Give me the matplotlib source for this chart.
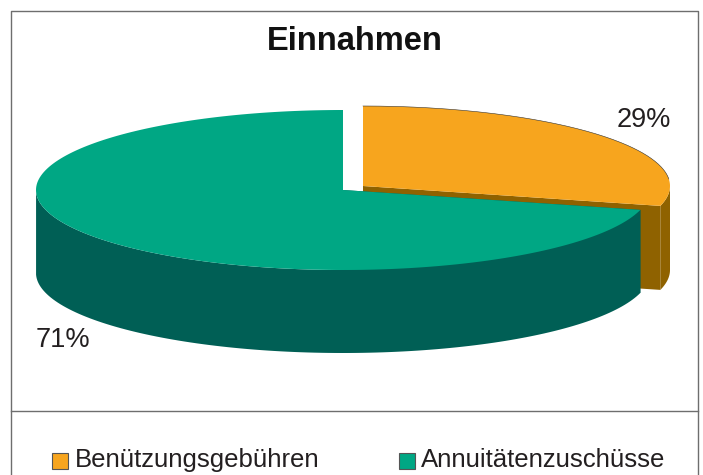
import numpy as np
import matplotlib
matplotlib.use('Agg')
import matplotlib.pyplot as plt
from matplotlib.patches import Rectangle

plt.rcParams['font.family'] = ['Liberation Sans', 'DejaVu Sans']

title = 'Einnahmen'
labels = ['Benützungsgebühren', 'Annuitätenzuschüsse']
shares = [29, 71]
share_labels = ['29%', '71%']

TOP = ['#F7A51E', '#00A784']
SIDE = ['#8F6200', '#005F55']
TEXT = '#231F20'
FRAME = '#6E6E6E'


def rim(t, cx, cy, a=307, b=80):
    """Point on the pie ellipse, t in degrees clockwise from 12 o'clock."""
    t = np.radians(t)
    return cx + a * np.sin(t), cy - b * np.cos(t)


def draw_slice(ax, start, end, cx, cy, top, side, depth=84, outline=False):
    t = np.linspace(start, end, 200)
    x, y = rim(t, cx, cy)

    # cut face from the centre to the end of the slice that faces the viewer
    edge = start if start > 90 and start < 270 else end
    ex, ey = rim(edge, cx, cy)
    ax.fill([cx, ex, ex, cx], [cy, ey, ey + depth, cy + depth], color=side, lw=0)

    # outer wall, only the front half of the ellipse can be seen
    front = (t > 90) & (t < 270)
    if front.any():
        fx, fy = x[front], y[front]
        ax.fill(np.r_[fx, fx[::-1]], np.r_[fy, fy[::-1] + depth], color=side, lw=0)

    ax.fill(np.r_[cx, x], np.r_[cy, y], color=top, lw=0)
    if outline:
        back = t < 85
        ax.plot(x[back], y[back], color='#333333', lw=0.4)


fig = plt.figure(figsize=(7.03, 4.75), dpi=100)
ax = fig.add_axes([0, 0, 1, 1])
ax.set_xlim(0, 703)
ax.set_ylim(475, 0)
ax.axis('off')

# chart frame, runs off the bottom of the picture
ax.plot([11, 11, 698, 698], [480, 11, 11, 480], color=FRAME, lw=1.0)
ax.plot([11, 698], [411, 411], color=FRAME, lw=1.0)

ax.text(355, 41, title, ha='center', va='center', fontsize=23.5, fontweight='bold', color='#111111')

# 29% slice is pulled out to the right, so it is drawn first
angle = 360 * shares[0] / sum(shares)
draw_slice(ax, 0, angle, 363, 186, TOP[0], SIDE[0], depth=84, outline=True)
draw_slice(ax, angle, 360, 343, 190, TOP[1], SIDE[1], depth=83)

ax.text(644, 120, share_labels[0], ha='center', va='center', fontsize=19.5, color=TEXT)
ax.text(63, 340, share_labels[1], ha='center', va='center', fontsize=19.5, color=TEXT)

# legend
for lx, tx, lab, col in zip([52, 399], [75, 421], labels, TOP):
    ax.add_patch(Rectangle((lx, 453), 16, 16, facecolor=col, edgecolor='#555555', lw=0.8))
    ax.text(tx, 460, lab, ha='left', va='center', fontsize=18.5, color=TEXT)

fig.savefig('out.png', dpi=100)
